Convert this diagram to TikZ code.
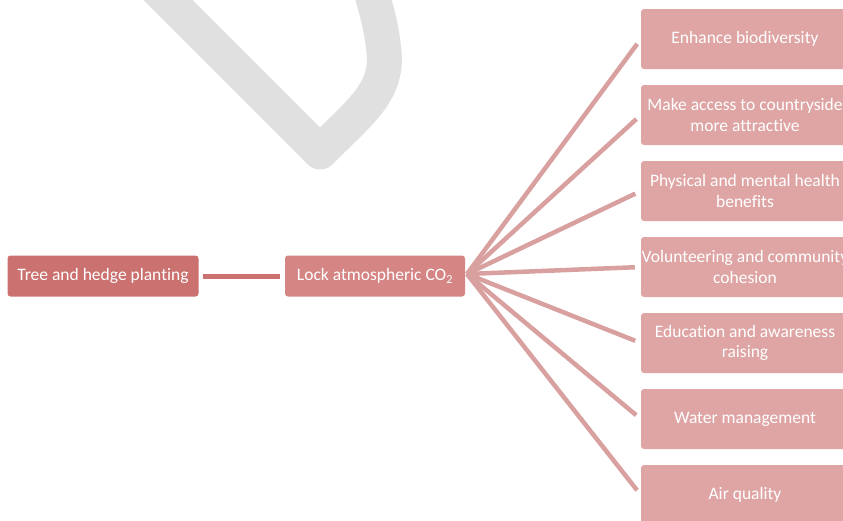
\documentclass[tikz,border=0pt]{standalone}
\usepackage{fontspec}
\setmainfont{Carlito}[Ligatures=NoCommon]
\usetikzlibrary{positioning}
\definecolor{treered}{HTML}{CB7270}
\definecolor{lockred}{HTML}{D48584}
\definecolor{benefitpink}{HTML}{DFA5A5}
\definecolor{fanline}{HTML}{D9A0A0}
\definecolor{watermark}{HTML}{E0E0E0}
\tikzset{
  box/.style={rectangle, rounded corners=3pt, text=white, align=center, inner sep=0pt, font=\fontsize{17.5}{20.5}\selectfont},
  benefit/.style={box, fill=benefitpink, minimum width=208pt, minimum height=60pt},
  fan/.style={draw=fanline, line width=4.5pt, shorten >=6pt},
}

\begin{document}
\begin{tikzpicture}[x=1pt, y=-1pt]
\clip (0,0) rectangle (843,520);

\draw[watermark, line width=35pt, line join=round] (118,-50) -- (320,152) .. controls (360,112) and (388,92) .. (384,52) .. controls (381,22) and (375,5) .. (366,-25);

\node[box, fill=treered, minimum width=191pt, minimum height=41pt] (tree) at (103,276) {Tree and hedge planting};
\node[box, fill=lockred, minimum width=180pt, minimum height=41pt] (lock) at (375,276) {Lock atmospheric CO\textsubscript{2}};

\node[benefit] (b1) at (745,39) {Enhance biodiversity};
\node[benefit] (b2) at (745,115) {Make access to countryside\\more attractive};
\node[benefit] (b3) at (745,191) {Physical and mental health\\benefits};
\node[benefit] (b4) at (745,267) {Volunteering and community\\cohesion};
\node[benefit] (b5) at (745,343) {Education and awareness\\raising};
\node[benefit] (b6) at (745,419) {Water management};
\node[benefit] (b7) at (745,495) {Air quality};

\draw[treered, line width=5pt, shorten <=4pt, shorten >=5pt] (tree) -- (lock);

\coordinate (hub) at (467,274);
\draw[fan] (hub) -- (b1.west);
\draw[fan] (hub) -- (b2.west);
\draw[fan] (hub) -- (b3.west);
\draw[fan] (hub) -- (b4.west);
\draw[fan] (hub) -- (b5.west);
\draw[fan] (hub) -- (b6.west);
\draw[fan] (hub) -- (b7.west);
\end{tikzpicture}
\end{document}
